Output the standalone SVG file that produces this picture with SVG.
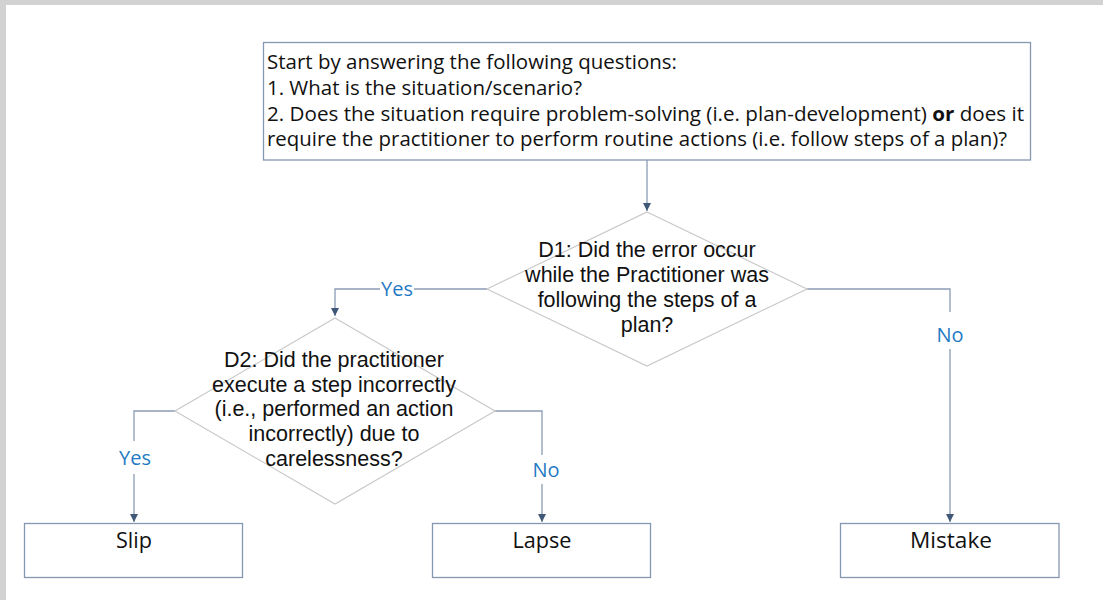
<svg xmlns="http://www.w3.org/2000/svg" width="1103" height="600" viewBox="0 0 1103 600">
<defs>
<style>
.frame{fill:#d2d2d2}
.box{fill:#ffffff;stroke:#8597b1;stroke-width:1.3}
.dia{fill:#ffffff;stroke:#c9c9c9;stroke-width:1.2}
.seg{font-family:"Open Sans","Noto Sans",sans-serif;fill:#111111}
.ari{font-family:"Liberation Sans",Arial,sans-serif;font-size:21.5px;fill:#111111;text-anchor:middle}
.lbl{font-family:"Open Sans","Noto Sans",sans-serif;font-size:20px;fill:#1f7ac4;text-anchor:middle}
.con{fill:none;stroke:#8a9bb4;stroke-width:1.3}
</style>
<marker id="arr" viewBox="0 0 10 10" refX="10" refY="5" markerWidth="8" markerHeight="8" markerUnits="userSpaceOnUse" orient="auto">
<path d="M0,0 L10,5 L0,10 z" fill="#3f5878"/>
</marker>
</defs>
<rect x="0" y="0" width="1103" height="600" fill="#ffffff"/>
<rect class="frame" x="0" y="0" width="1103" height="5"/>
<rect class="frame" x="0" y="0" width="6" height="600"/>

<g id="connectors">
<path class="con" d="M647,160 V211" marker-end="url(#arr)"/>
<path class="con" d="M487,289 H335 V316" marker-end="url(#arr)"/>
<path class="con" d="M807,289 H950 V312 M950,349 V522" marker-end="url(#arr)"/>
<path class="con" d="M175,411 H134 V441 M134,474 V522" marker-end="url(#arr)"/>
<path class="con" d="M495,411 H542 V455 M542,484 V522" marker-end="url(#arr)"/>
<rect x="380" y="278" width="34" height="22" fill="#ffffff"/>
<text class="lbl" x="397" y="296">Yes</text>
<text class="lbl" x="950" y="342">No</text>
<text class="lbl" x="135" y="465">Yes</text>
<text class="lbl" x="546" y="477">No</text>
</g>

<g id="start">
<rect class="box" x="263.5" y="42.5" width="767" height="117.5"/>
<text class="seg" font-size="19.5" x="267" y="69" textLength="410" lengthAdjust="spacingAndGlyphs">Start by answering the following questions:</text>
<text class="seg" font-size="19.5" x="267" y="95" textLength="315" lengthAdjust="spacingAndGlyphs">1. What is the situation/scenario?</text>
<text class="seg" font-size="19.5" x="267" y="120.5" textLength="757" lengthAdjust="spacingAndGlyphs">2. Does the situation require problem-solving (i.e. plan-development) <tspan font-weight="bold">or</tspan> does it</text>
<text class="seg" font-size="19.5" x="267" y="146" textLength="740" lengthAdjust="spacingAndGlyphs">require the practitioner to perform routine actions (i.e. follow steps of a plan)?</text>
</g>

<g id="d1">
<polygon class="dia" points="647,212 807,289 647,366 487,289"/>
<text class="ari" x="647" y="257">D1: Did the error occur</text>
<text class="ari" x="647" y="282">while the Practitioner was</text>
<text class="ari" x="647" y="307">following the steps of a</text>
<text class="ari" x="647" y="332">plan?</text>
</g>

<g id="d2">
<polygon class="dia" points="335,318 495,411 335,504 175,411"/>
<text class="ari" x="334" y="367">D2: Did the practitioner</text>
<text class="ari" x="334" y="391.5">execute a step incorrectly</text>
<text class="ari" x="334" y="416">(i.e., performed an action</text>
<text class="ari" x="334" y="441">incorrectly) due to</text>
<text class="ari" x="334" y="465.5">carelessness?</text>
</g>

<g id="slip">
<rect class="box" x="24.5" y="523.5" width="218" height="54"/>
<text class="seg" font-size="22" x="116" y="548" textLength="36" lengthAdjust="spacingAndGlyphs">Slip</text>
</g>

<g id="lapse">
<rect class="box" x="432.5" y="523.5" width="218" height="54"/>
<text class="seg" font-size="22" x="512.5" y="548" textLength="59" lengthAdjust="spacingAndGlyphs">Lapse</text>
</g>

<g id="mistake">
<rect class="box" x="840.5" y="523.5" width="218.5" height="54"/>
<text class="seg" font-size="22" x="910" y="548" textLength="82" lengthAdjust="spacingAndGlyphs">Mistake</text>
</g>
</svg>
